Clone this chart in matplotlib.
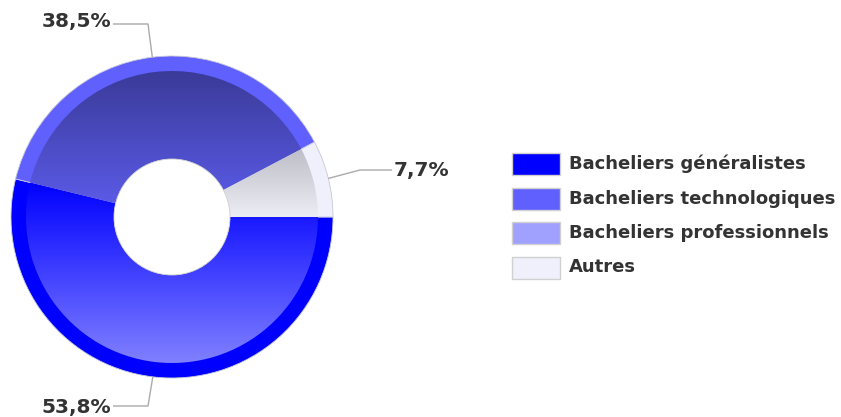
import numpy as np
import matplotlib
matplotlib.use("Agg")
import matplotlib.pyplot as plt
from matplotlib.patches import Wedge, Rectangle
from matplotlib.colors import to_rgb

# ---- data ----
categories = ["Bacheliers généralistes", "Bacheliers technologiques",
              "Bacheliers professionnels", "Autres"]
values = [53.8, 38.5, 0.0, 7.7]
value_labels = ["53,8%", "38,5%", "", "7,7%"]

# ---- styles ----
rim_colors = ["#0000ff", "#6060ff", "#a0a0ff", "#f0f0fc"]
grad_top = ["#0000ff", "#3a3a98", "#8080e0", "#bebec8"]
grad_bottom = ["#8080ff", "#5a5ae6", "#b0b0ff", "#ededf5"]

W, H = 841, 417
fig = plt.figure(figsize=(W / 100, H / 100), dpi=100)
ax = fig.add_axes([0, 0, 1, 1])
ax.set_xlim(0, W)
ax.set_ylim(0, H)
ax.axis("off")

def Y(y):
    return H - y

cx, cy = 172, Y(217)
R = 161
R_in = 146
r_hole = 58

label_layout = {
    0: dict(elbow=(148, 406), end=(113, 406), text=(111, 408), ha="right"),
    1: dict(elbow=(148, 24), end=(113, 24), text=(111, 21), ha="right"),
    3: dict(elbow=(360, 170), end=(392, 170), text=(394, 170), ha="left"),
}

total = sum(values)
cum = 0.0
start = 0.0
for i, v in enumerate(values):
    if v <= 0:
        continue
    t2 = start - cum / total * 360
    t1 = start - (cum + v) / total * 360
    cum += v
    w = Wedge((cx, cy), R, t1, t2, width=R - r_hole, facecolor=rim_colors[i],
              edgecolor="#c8c8d8", lw=0.6, zorder=2)
    ax.add_patch(w)
    wi = Wedge((cx, cy), R_in, t1, t2, width=R_in - r_hole, facecolor="none",
               edgecolor="none", zorder=3)
    ax.add_patch(wi)
    ext = wi.get_path().get_extents()
    n = 256
    c0 = np.array(to_rgb(grad_top[i]))
    c1 = np.array(to_rgb(grad_bottom[i]))
    tt = np.linspace(0, 1, n)[:, None]
    grad = (c0 * (1 - tt) + c1 * tt)[:, None, :]
    im = ax.imshow(grad, extent=[ext.x0, ext.x1, ext.y0, ext.y1],
                   origin="upper", aspect="auto", zorder=3, interpolation="bilinear")
    im.set_clip_path(wi)
    mid = np.deg2rad((t1 + t2) / 2)
    px, py = cx + R * np.cos(mid), cy + R * np.sin(mid)
    lay = label_layout[i]
    ex, ey = lay["elbow"]
    qx, qy = lay["end"]
    ax.plot([px, ex, qx], [py, Y(ey), Y(qy)], color="#aaaaaa",
            lw=1, zorder=4, solid_capstyle="butt")
    tx, ty = lay["text"]
    ax.text(tx, Y(ty), value_labels[i], ha=lay["ha"], va="center",
            fontsize=14.5, fontweight="bold", color="#333333", family="DejaVu Sans")

hole = plt.Circle((cx, cy), r_hole, facecolor="white", edgecolor="#d0d0d0", lw=0.6, zorder=5)
ax.add_patch(hole)

# ---- legend ----
lx, ly0, pitch = 512, 153, 34.5
for i, name in enumerate(categories):
    y = ly0 + i * pitch
    ax.add_patch(Rectangle((lx, Y(y + 22)), 48, 22, facecolor=rim_colors[i],
                           edgecolor="#d0d0d0", lw=1, zorder=2))
    ax.text(lx + 57, Y(y + 11), name, ha="left", va="center", fontsize=13,
            fontweight="bold", color="#333333", family="DejaVu Sans")

ax.set_xlim(0, W)
ax.set_ylim(0, H)
fig.savefig("out.png", dpi=100, facecolor="white")
